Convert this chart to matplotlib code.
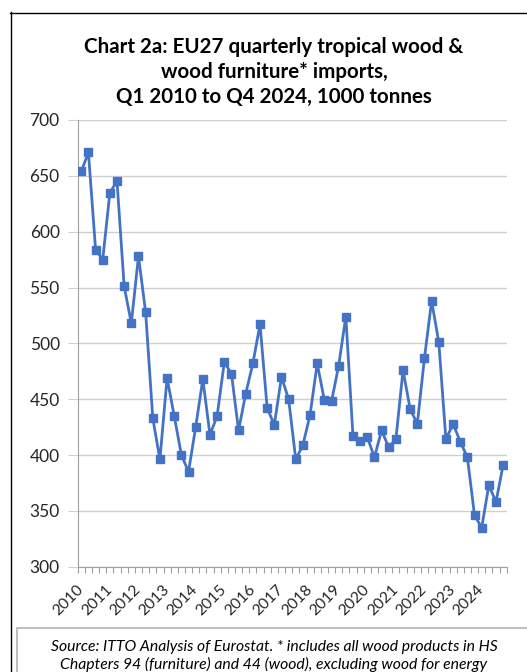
import matplotlib
matplotlib.use("Agg")
import matplotlib.pyplot as plt
from matplotlib.patches import Rectangle
from matplotlib.lines import Line2D
import numpy as np

years = [str(y) for y in range(2010, 2025)]
imports_kt = [654, 671, 584, 575, 635, 645, 551, 518, 578, 528,
              433, 396, 469, 435, 400, 385, 425, 468, 418, 435,
              483, 473, 422, 455, 482, 517, 442, 427, 470, 450,
              396, 409, 436, 482, 449, 448, 480, 524, 417, 413,
              416, 398, 422, 407, 414, 476, 441, 428, 487, 538,
              501, 414, 428, 412, 398, 346, 335, 373, 358, 391]
y_ticks = [300, 350, 400, 450, 500, 550, 600, 650, 700]
title = "Chart 2a: EU27 quarterly tropical wood &\nwood furniture* imports,\nQ1 2010 to Q4 2024, 1000 tonnes"
source = ("Source: ITTO Analysis of Eurostat. * includes all wood products in HS\n"
          "Chapters 94 (furniture) and 44 (wood), excluding wood for energy")

plt.rcParams['font.family'] = ['Lato', 'DejaVu Sans']

W, H = 527, 672
fig = plt.figure(figsize=(W / 100, H / 100), dpi=100)
fig.patch.set_facecolor('white')

# outer chart border (left and top visible)
fig.add_artist(Line2D([10.5 / W, 10.5 / W], [0, 1 - 12 / H], transform=fig.transFigure, color='black', lw=1.0))
fig.add_artist(Line2D([10 / W, 1], [1 - 12.5 / H, 1 - 12.5 / H], transform=fig.transFigure, color='black', lw=1.0))

left, right = 77.7 / W, 506.7 / W
bottom, top = 1 - 566.7 / H, 1 - 120 / H
ax = fig.add_axes([left, bottom, right - left, top - bottom])

x = np.arange(len(imports_kt))
ax.plot(x, imports_kt, color='#4472C4', lw=2.0, marker='s', markersize=6,
        markerfacecolor='#4472C4', markeredgecolor='#4472C4', zorder=3)

ax.set_xlim(-0.5, len(imports_kt) - 0.5)
ax.set_ylim(300, 700)
ax.set_yticks(y_ticks)
ax.set_yticklabels([str(v) for v in y_ticks], fontsize=12.5, color='#262626')
ax.yaxis.grid(True, color='#D0D0D0', lw=1.0)
ax.set_axisbelow(True)
ax.tick_params(axis='y', length=7, color='#D0D0D0', pad=6)

ax.set_xticks(np.arange(0, len(imports_kt), 4))
ax.set_xticklabels(years, rotation=45, ha='right', va='center', rotation_mode='anchor',
                   fontsize=11.3, color='#262626')
ax.tick_params(axis='x', which='major', length=0, pad=15)
ax.set_xticks(np.arange(-0.5, len(imports_kt), 1), minor=True)
ax.tick_params(axis='x', which='minor', length=4, color='#A0A0A0', width=0.8)

for s in ['top', 'right']:
    ax.spines[s].set_visible(False)
ax.spines['left'].set_color('#A0A0A0')
ax.spines['bottom'].set_color('#A0A0A0')

fig.text(274 / W, 1 - 72 / H, title, ha='center', va='center', fontsize=14.8,
         fontweight='bold', color='black', linespacing=1.33)

# source box
fig.add_artist(Rectangle((17 / W, -0.05), 1.0, 0.05 + 1 - 628 / H, transform=fig.transFigure,
                         facecolor='white', edgecolor='#BFBFBF', lw=1.5))
fig.text(274 / W, 1 - 656 / H, source, ha='center', va='center', fontsize=11.3,
         style='italic', color='black', linespacing=1.2)

fig.savefig('out.png', dpi=100)
